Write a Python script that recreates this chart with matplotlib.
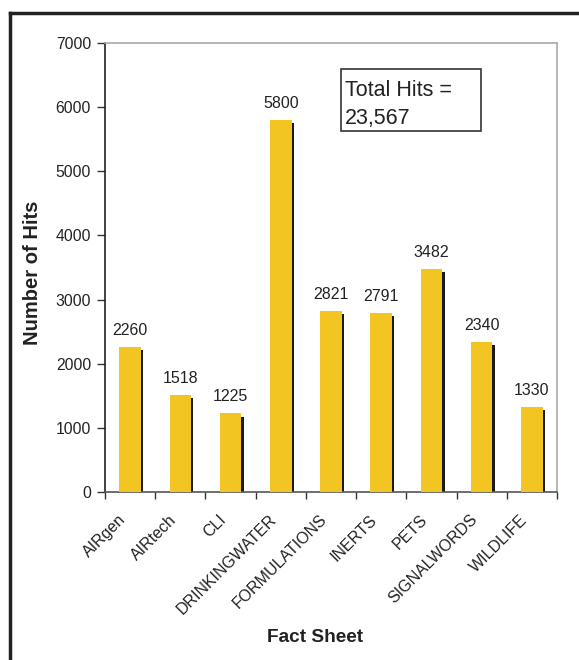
import matplotlib
matplotlib.use("Agg")
import matplotlib.pyplot as plt
from matplotlib.lines import Line2D
from matplotlib.patches import Rectangle
import numpy as np

categories = ["AIRgen", "AIRtech", "CLI", "DRINKINGWATER", "FORMULATIONS",
              "INERTS", "PETS", "SIGNALWORDS", "WILDLIFE"]
hits = [2260, 1518, 1225, 5800, 2821, 2791, 3482, 2340, 1330]
yticks = [0, 1000, 2000, 3000, 4000, 5000, 6000, 7000]
total_lines = ["Total Hits =", "23,567"]

plt.rcParams['font.family'] = ['Liberation Sans', 'DejaVu Sans']

W, H = 579, 660
def fx(x):
    return x / W
def fy(y):
    return 1 - y / H

fig = plt.figure(figsize=(5.79, 6.60), dpi=100)
ax = fig.add_axes([fx(105), fy(492), 452/W, 449/H])

x = np.arange(len(categories))
w = 0.43
ax.bar(x + 0.045, [v - 50 for v in hits], width=w, color='#1a1a1a', zorder=2)
ax.bar(x, hits, width=w, color='#F3C522', zorder=3)

for xi, v in zip(x, hits):
    ax.annotate(f"{v}", (xi, v), xytext=(0, 8.7), textcoords='offset points',
                ha='center', va='baseline', fontsize=11.5, color='#222222')

ax.set_xlim(-0.5, len(categories) - 0.5)
ax.set_ylim(0, 7000)
ax.set_yticks(yticks)
ax.set_yticklabels([str(t) for t in yticks], fontsize=11.3, color='#222222')
ax.set_xticks(np.arange(-0.5, len(categories), 1.0))
ax.set_xticklabels([])
ax.tick_params(axis='x', direction='out', length=5, width=1, color='#333333')
ax.tick_params(axis='y', direction='out', length=6, width=1, color='#333333', pad=4)

for xi, c in zip(x, categories):
    ax.text(xi - 0.24, -312, c, rotation=45, ha='right', va='top',
            rotation_mode='anchor', fontsize=11.5, color='#222222')

ax.spines['left'].set_color('#222222')
ax.spines['bottom'].set_color('#555555')
ax.spines['top'].set_color('#aaaaaa')
ax.spines['right'].set_color('#aaaaaa')
for s in ax.spines.values():
    s.set_linewidth(1.2)

fig.text(fx(33), fy(273), "Number of Hits", rotation=90, ha='center', va='center',
         fontsize=14.5, fontweight='bold', color='#222222')
fig.text(fx(315), fy(637), "Fact Sheet", ha='center', va='center',
         fontsize=13.7, fontweight='bold', color='#222222')

# total hits box
fig.add_artist(Rectangle((fx(341), fy(130.5)), (481 - 341) / W, (130.5 - 69) / H,
                         transform=fig.transFigure, fc='white', ec='#333333', lw=1.2,
                         zorder=5))
fig.text(fx(345), fy(96.5), total_lines[0], ha='left', va='baseline',
         fontsize=15.5, color='#222222', zorder=6)
fig.text(fx(345), fy(124), total_lines[1], ha='left', va='baseline',
         fontsize=15.5, color='#222222', zorder=6)

# outer frame (top and left visible)
fig.add_artist(Line2D([fx(10), fx(10)], [0, fy(13)], transform=fig.transFigure,
                      color='#222222', lw=2.5))
fig.add_artist(Line2D([fx(10), 1], [fy(13), fy(13)], transform=fig.transFigure,
                      color='#222222', lw=2.5))

fig.savefig("out.png", dpi=100)
